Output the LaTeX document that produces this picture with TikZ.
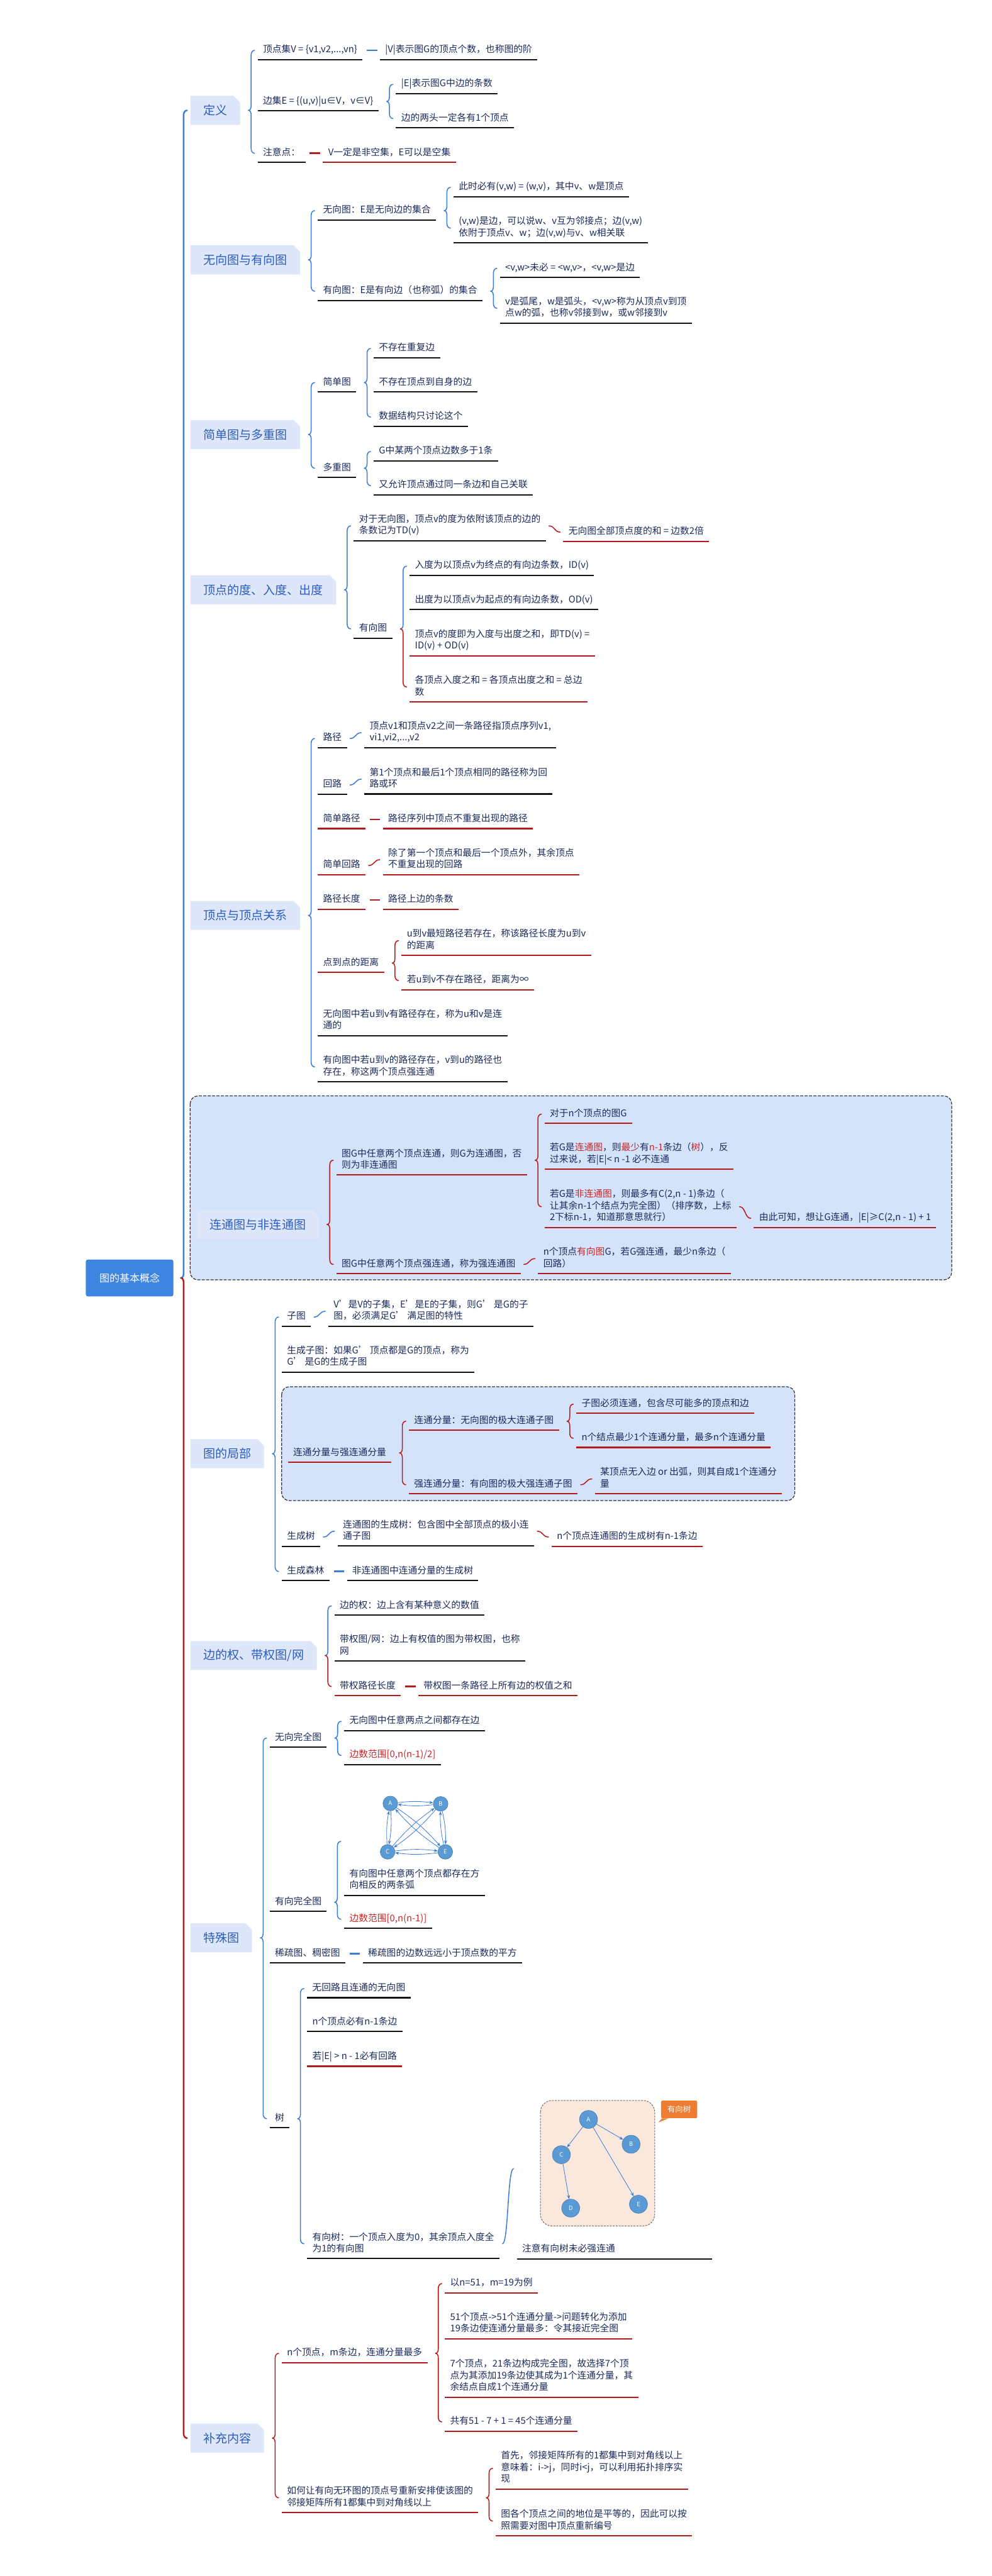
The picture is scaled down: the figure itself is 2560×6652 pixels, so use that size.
\documentclass[tikz,border=0pt]{standalone}
\usepackage{fontspec}
\setmainfont{Noto Sans CJK SC}
\usetikzlibrary{calc,arrows.meta}
\definecolor{navy}{HTML}{1B2A5B}
\definecolor{lblue}{HTML}{2C5DBF}
\definecolor{cblue}{HTML}{3C7DD9}
\definecolor{cred}{HTML}{B71C1C}
\definecolor{ured}{HTML}{B51A1A}
\definecolor{ublk}{HTML}{141414}
\definecolor{tred}{HTML}{C62828}
\definecolor{lonefill}{HTML}{DEE7FA}
\definecolor{dbfill}{HTML}{D5E3FA}
\definecolor{rootblue}{HTML}{3D85E0}
\definecolor{nodeblue}{HTML}{5B9BD5}
\definecolor{peach}{HTML}{FBE8DC}
\definecolor{orng}{HTML}{EE7D31}
\newcommand\R[1]{\textcolor{tred}{#1}}
\newcommand\NL{\\\strut}
\newcommand\nd[5]{\node[lf,#1] (#2) at ($(#3.east |- 0,#4)+(13.5pt,0)$) {#5};}
\newcommand\mbr[6][]{%
\draw[brc,#5,#1] let \p1=(#2.east),\p2=(#3.west) in (\x2-2.4pt,\y2) to[out=180,in=90] (\x2-5.1pt,\y2-3.6pt) -- (\x2-5.1pt,\y1+3.6pt) to[out=270,in=0] (\x2-7.2pt,\y1);
\draw[brc,#6,#1] let \p1=(#2.east),\p2=(#3.west),\p3=(#4.west) in (\x2-7.2pt,\y1) to[out=0,in=90] (\x2-5.1pt,\y1-3.6pt) -- (\x2-5.1pt,\y3+3.6pt) to[out=270,in=180] (\x2-2.4pt,\y3);}
\newcommand\msc[3]{\draw[brc,#3] let \p1=(#1.east),\p2=(#2.west) in (\x1+2.4pt,\y1) .. controls (\x1+7pt,\y1) and (\x2-7pt,\y2) .. (\x2-2.4pt,\y2);}
\newcommand\mdsh[3]{\draw[dsh,#3] ([xshift=3.3pt]#1.east) -- ([xshift=-2.1pt]#2.west);}
\begin{document}
\begin{tikzpicture}[x=0.3pt,y=-0.3pt,
 lf/.style={anchor=west, align=left, inner xsep=3.9pt, inner ysep=2.4pt, text=navy, font=\fontsize{7.2}{9}\selectfont, execute at begin node=\strut},
 ulk/.style={draw=ublk, line width=1pt},
 ulr/.style={draw=ured, line width=1pt},
 kb/.style={append after command={(\tikzlastnode.south west) edge[ulk] (\tikzlastnode.south east)}},
 kr/.style={append after command={(\tikzlastnode.south west) edge[ulr] (\tikzlastnode.south east)}},
 lone/.style={anchor=west, inner xsep=9.9pt, minimum height=22.5pt, text=lblue, font=\fontsize{9.3}{11}\selectfont,
   path picture={\fill[lonefill] (path picture bounding box.north west) -- ([xshift=-5pt]path picture bounding box.north east) -- ([yshift=-5pt]path picture bounding box.north east) -- (path picture bounding box.south east) -- (path picture bounding box.south west) -- cycle;}},
 root/.style={anchor=west, fill=rootblue, text=white, font=\fontsize{7.8}{9}\selectfont, minimum width=67.8pt, minimum height=28.5pt, rounded corners=1.5pt},
 brc/.style={line width=0.75pt, line cap=round},
 trk/.style={line width=1.2pt},
 dsh/.style={line width=1.3pt},
 dbox/.style={draw=black!80, dash pattern=on 2.4pt off 1pt, line width=0.6pt, fill=dbfill, rounded corners=6pt},
 gpt/.style={inner sep=0pt, minimum size=0pt},
 gn/.style={circle, fill=nodeblue, draw=nodeblue!80!black, line width=0.3pt, text=white, inner sep=0pt, font=\fontsize{4.5}{5}\selectfont},
 ge/.style={draw=cblue, line width=0.4pt, -{Stealth[length=3pt,width=2.4pt]}}
]
\useasboundingbox (0,0) rectangle (2560,6652);
% dashed group boxes
\draw[dbox] (491,2830) rectangle (2457,3305);
\draw[dbox] (727,3581) rectangle (2052,3875);
% root and main branches
\node[root] (R) at (221,3300) {图的基本概念};
\node[lone] (D1) at (491,285) {定义};
\node[lone] (D2) at (491,671) {无向图与有向图};
\node[lone] (D3) at (491,1122) {简单图与多重图};
\node[lone] (D4) at (491,1523) {顶点的度、入度、出度};
\node[lone] (D5) at (491,2364) {顶点与顶点关系};
\node[lone] (D6) at (508,3162) {连通图与非连通图};
\node[lone] (D7) at (491,3754) {图的局部};
\node[lone] (D8) at (491,4275) {边的权、带权图/网};
\node[lone] (D9) at (491,5004) {特殊图};
\node[lone] (D10) at (491,6296) {补充内容};
\mbr[trk]{R}{D1}{D10}{cblue}{cred}
% D1
\nd{kb}{a1}{D1}{130}{顶点集V = \{v1,v2,...,vn\}}
\nd{kb}{a1c}{a1}{130}{|V|表示图G的顶点个数，也称图的阶}
\mdsh{a1}{a1c}{cblue}
\nd{kb}{a2}{D1}{262}{边集E = \{(u,v)|u∈V，v∈V\}}
\nd{kb}{a2a}{a2}{218}{|E|表示图G中边的条数}
\nd{kb}{a2b}{a2}{306}{边的两头一定各有1个顶点}
\mbr{a2}{a2a}{a2b}{cblue}{cblue}
\nd{kb}{a3}{D1}{396}{注意点：}
\nd{kr}{a3c}{a3}{396}{V一定是非空集，E可以是空集}
\mdsh{a3}{a3c}{cred}
\mbr{D1}{a1}{a3}{cblue}{cblue}
% D2
\nd{kb}{b1}{D2}{544}{无向图：E是无向边的集合}
\nd{kb}{b1a}{b1}{484}{此时必有(v,w) = (w,v)，其中v、w是顶点}
\nd{kb}{b1b}{b1}{589}{(v,w)是边，可以说w、v互为邻接点；边(v,w)\NL 依附于顶点v、w；边(v,w)与v、w相关联}
\mbr{b1}{b1a}{b1b}{cblue}{cblue}
\nd{kb}{b2}{D2}{752}{有向图：E是有向边（也称弧）的集合}
\nd{kb}{b2a}{b2}{693}{<v,w>未必 = <w,v>，<v,w>是边}
\nd{kb}{b2b}{b2}{796}{v是弧尾，w是弧头，<v,w>称为从顶点v到顶\NL 点w的弧，也称v邻接到w，或w邻接到v}
\mbr{b2}{b2a}{b2b}{cblue}{cblue}
\mbr{D2}{b1}{b2}{cblue}{cblue}
% D3
\nd{kb}{c1}{D3}{988}{简单图}
\nd{kb}{c1a}{c1}{900}{不存在重复边}
\nd{kb}{c1b}{c1}{988}{不存在顶点到自身的边}
\nd{kb}{c1c}{c1}{1077}{数据结构只讨论这个}
\mbr{c1}{c1a}{c1c}{cblue}{cblue}
\nd{kb}{c2}{D3}{1209}{多重图}
\nd{kb}{c2a}{c2}{1166}{G中某两个顶点边数多于1条}
\nd{kb}{c2b}{c2}{1254}{又允许顶点通过同一条边和自己关联}
\mbr{c2}{c2a}{c2b}{cblue}{cblue}
\mbr{D3}{c1}{c2}{cblue}{cblue}
% D4
\nd{kb}{d1}{D4}{1358}{对于无向图，顶点v的度为依附该顶点的边的\NL 条数记为TD(v)}
\nd{kr}{d1c}{d1}{1374}{无向图全部顶点度的和 = 边数2倍}
\msc{d1}{d1c}{cred}
\nd{kb}{d2}{D4}{1624}{有向图}
\nd{kb}{d2a}{d2}{1462}{入度为以顶点v为终点的有向边条数，ID(v)}
\nd{kb}{d2b}{d2}{1550}{出度为以顶点v为起点的有向边条数，OD(v)}
\nd{kr}{d2c}{d2}{1655}{顶点v的度即为入度与出度之和，即TD(v) =\NL ID(v) + OD(v)}
\nd{kr}{d2d}{d2}{1774}{各顶点入度之和 = 各顶点出度之和 = 总边\NL 数}
\mbr{d2}{d2a}{d2d}{cblue}{cred}
\mbr{D4}{d1}{d2}{cblue}{cblue}
% D5
\nd{kb}{e1}{D5}{1907}{路径}
\nd{kb}{e1c}{e1}{1892}{顶点v1和顶点v2之间一条路径指顶点序列v1,\NL vi1,vi2,...,v2}
\msc{e1}{e1c}{cblue}
\nd{kb}{e2}{D5}{2027}{回路}
\nd{kb}{e2c}{e2}{2012}{第1个顶点和最后1个顶点相同的路径称为回\NL 路或环}
\msc{e2}{e2c}{cblue}
\nd{kr}{e3}{D5}{2116}{简单路径}
\nd{kr}{e3c}{e3}{2116}{路径序列中顶点不重复出现的路径}
\mdsh{e3}{e3c}{cred}
\nd{kr}{e4}{D5}{2235}{简单回路}
\nd{kr}{e4c}{e4}{2220}{除了第一个顶点和最后一个顶点外，其余顶点\NL 不重复出现的回路}
\msc{e4}{e4c}{cred}
\nd{kr}{e5}{D5}{2324}{路径长度}
\nd{kr}{e5c}{e5}{2324}{路径上边的条数}
\mdsh{e5}{e5c}{cred}
\nd{kr}{e6}{D5}{2487}{点到点的距离}
\nd{kr}{e6a}{e6}{2429}{u到v最短路径若存在，称该路径长度为u到v\NL 的距离}
\nd{kr}{e6b}{e6}{2532}{若u到v不存在路径，距离为∞}
\mbr{e6}{e6a}{e6b}{cred}{cred}
\nd{kb}{e7}{D5}{2636}{无向图中若u到v有路径存在，称为u和v是连\NL 通的}
\nd{kb}{e8}{D5}{2755}{有向图中若u到v的路径存在，v到u的路径也\NL 存在，称这两个顶点强连通}
\mbr{D5}{e1}{e8}{cblue}{cblue}
% D6
\nd{kr}{f1}{D6}{2996}{图G中任意两个顶点连通，则G为连通图，否\NL 则为非连通图}
\nd{kr}{f1a}{f1}{2877}{对于n个顶点的图G}
\nd{kr}{f1b}{f1}{2981}{若G是\R{连通图}，则\R{最少}有\R{n-1}条边（\R{树}），反\NL 过来说，若|E|< n -1 必不连通}
\nd{kr}{f1c}{f1}{3116}{若G是\R{非连通图}，则最多有C(2,n - 1)条边（\NL 让其余n-1个结点为完全图）（排序数，上标\NL 2下标n-1，知道那意思就行）}
\nd{kr}{f1d}{f1c}{3146}{由此可知，想让G连通，|E|≥C(2,n - 1) + 1}
\msc{f1c}{f1d}{cred}
\mbr{f1}{f1a}{f1c}{cred}{cred}
\nd{kr}{f2}{D6}{3265}{图G中任意两个顶点强连通，称为强连通图}
\nd{kr}{f2c}{f2}{3250}{n个顶点\R{有向图}G，若G强连通，最少n条边（\NL 回路）}
\msc{f2}{f2c}{cred}
\mbr{D6}{f1}{f2}{cred}{cred}
% D7
\nd{kb}{g1}{D7}{3401}{子图}
\nd{kb}{g1c}{g1}{3386}{V'是V的子集，E'是E的子集，则G' 是G的子\NL 图，必须满足G' 满足图的特性}
\msc{g1}{g1c}{cblue}
\nd{kb}{g2}{D7}{3505}{生成子图：如果G' 顶点都是G的顶点，称为\NL G' 是G的生成子图}
\nd{kr,xshift=4.8pt}{g3}{D7}{3752}{连通分量与强连通分量}
\nd{kr}{g3a}{g3}{3670}{连通分量：无向图的极大连通子图}
\nd{kr}{g3a1}{g3a}{3626}{子图必须连通，包含尽可能多的顶点和边}
\nd{kr}{g3a2}{g3a}{3714}{n个结点最少1个连通分量，最多n个连通分量}
\mbr{g3a}{g3a1}{g3a2}{cred}{cred}
\nd{kr}{g3b}{g3}{3834}{强连通分量：有向图的极大强连通子图}
\nd{kr}{g3b1}{g3b}{3819}{某顶点无入边 or 出弧，则其自成1个连通分\NL 量}
\msc{g3b}{g3b1}{cred}
\mbr{g3}{g3a}{g3b}{cred}{cred}
\nd{kb}{g4}{D7}{3969}{生成树}
\nd{kb}{g4c}{g4}{3954}{连通图的生成树：包含图中全部顶点的极小连\NL 通子图}
\msc{g4}{g4c}{cblue}
\nd{kr}{g4d}{g4c}{3969}{n个顶点连通图的生成树有n-1条边}
\msc{g4c}{g4d}{cred}
\nd{kb}{g5}{D7}{4058}{生成森林}
\nd{kb}{g5c}{g5}{4058}{非连通图中连通分量的生成树}
\mdsh{g5}{g5c}{cblue}
\mbr{D7}{g1}{g5}{cblue}{cblue}
% D8
\nd{kb}{h1}{D8}{4147}{边的权：边上含有某种意义的数值}
\nd{kb}{h2}{D8}{4251}{带权图/网：边上有权值的图为带权图，也称\NL 网}
\nd{kr}{h3}{D8}{4355}{带权路径长度}
\nd{kr}{h3c}{h3}{4355}{带权图一条路径上所有边的权值之和}
\mdsh{h3}{h3c}{cred}
\mbr{D8}{h1}{h3}{cblue}{cred}
% D9
\nd{kb}{i1}{D9}{4488}{无向完全图}
\nd{kb}{i1a}{i1}{4445}{无向图中任意两点之间都存在边}
\nd{kb}{i1b}{i1}{4533}{\R{边数范围[0,n(n-1)/2]}}
\mbr{i1}{i1a}{i1b}{cblue}{cblue}
\nd{kb}{i2}{D9}{4912}{有向完全图}
\node[gpt] (i2g) at ($(i2.east |- 0,4755)+(13.5pt,0)$) {};
\node[lf,kb] (i2a) at (i2g.center |- 0,4856) {有向图中任意两个顶点都存在方\NL 向相反的两条弧};
\nd{kb}{i2b}{i2}{4956}{\R{边数范围[0,n(n-1)]}}
\mbr{i2}{i2g}{i2b}{cblue}{cblue}
\begin{scope}[shift={(i2g.center)}]
 \node[gn, minimum size=11.4pt] (qa) at (119,-98) {A};
 \node[gn, minimum size=11.4pt] (qb) at (249,-97) {B};
 \node[gn, minimum size=11.4pt] (qc) at (112,27) {C};
 \node[gn, minimum size=11.4pt] (qe) at (261,27) {E};
 \foreach \u/\v in {qa/qb,qb/qa,qa/qc,qc/qa,qb/qe,qe/qb,qc/qe,qe/qc,qa/qe,qe/qa,qb/qc,qc/qb}
   \draw[ge] (\u) to[bend left=7] (\v);
\end{scope}
\nd{kb}{i3}{D9}{5045}{稀疏图、稠密图}
\nd{kb}{i3c}{i3}{5045}{稀疏图的边数远远小于顶点数的平方}
\mdsh{i3}{i3c}{cblue}
\nd{kb}{i4}{D9}{5471}{树}
\nd{kb}{i4a}{i4}{5135}{无回路且连通的无向图}
\nd{kb}{i4b}{i4}{5222}{n个顶点必有n-1条边}
\nd{kr}{i4c}{i4}{5312}{若|E| > n - 1必有回路}
\nd{kb}{i4d}{i4}{5794}{有向树：一个顶点入度为0，其余顶点入度全\NL 为1的有向图}
\mbr{i4}{i4a}{i4d}{cblue}{cblue}
\node[gpt] (i4e) at ($(i4d.east |- 0,5600)+(13.5pt,0)$) {};
\msc{i4d}{i4e}{cblue}
\begin{scope}[shift={(i4e.center)}]
 \draw[draw=black!55, dash pattern=on 1.5pt off 0.8pt, line width=0.5pt, fill=peach, rounded corners=9pt] (61,-176) rectangle (356,148);
 \node[gn, minimum size=14pt] (ta) at (185,-127) {A};
 \node[gn, minimum size=14pt] (tb) at (295,-63) {B};
 \node[gn, minimum size=14pt] (tc) at (115,-36) {C};
 \node[gn, minimum size=14pt] (td) at (139,102) {D};
 \node[gn, minimum size=14pt] (te) at (314,92) {E};
 \draw[ge] (ta) -- (tc);
 \draw[ge] (ta) -- (tb);
 \draw[ge] (ta) -- (te);
 \draw[ge] (tc) -- (td);
 \node[fill=orng, text=white, font=\fontsize{6}{7}\selectfont, minimum width=28pt, minimum height=13.5pt, inner sep=1pt, rounded corners=1pt] (cl) at (419,-153) {有向树};
 \fill[orng] ([xshift=1pt]cl.south west) -- (365,-119) -- ([xshift=6pt]cl.south west) -- cycle;
\end{scope}
\node[lf,kb,text width=143pt] (i4f) at (i4e.center |- 0,5809) {注意有向树未必强连通};
\mbr{D9}{i1}{i4}{cblue}{cblue}
% D10
\nd{kr}{j1}{D10}{6077}{n个顶点，m条边，连通分量最多}
\nd{kr}{j1a}{j1}{5897}{以n=51，m=19为例}
\nd{kr}{j1b}{j1}{6001}{51个顶点->51个连通分量->问题转化为添加\NL 19条边使连通分量最多：令其接近完全图}
\nd{kr}{j1c}{j1}{6137}{7个顶点，21条边构成完全图，故选择7个顶\NL 点为其添加19条边使其成为1个连通分量，其\NL 余结点自成1个连通分量}
\nd{kr}{j1d}{j1}{6254}{共有51 - 7 + 1 = 45个连通分量}
\mbr{j1}{j1a}{j1d}{cred}{cred}
\nd{kr}{j2}{D10}{6450}{如何让有向无环图的顶点号重新安排使该图的\NL 邻接矩阵所有1都集中到对角线以上}
\nd{kr}{j2a}{j2}{6374}{首先，邻接矩阵所有的1都集中到对角线以上\NL 意味着：i->j，同时i<j，可以利用拓扑排序实\NL 现}
\nd{kr}{j2b}{j2}{6510}{图各个顶点之间的地位是平等的，因此可以按\NL 照需要对图中顶点重新编号}
\mbr{j2}{j2a}{j2b}{cred}{cred}
\mbr{D10}{j1}{j2}{cred}{cred}
\end{tikzpicture}
\end{document}
